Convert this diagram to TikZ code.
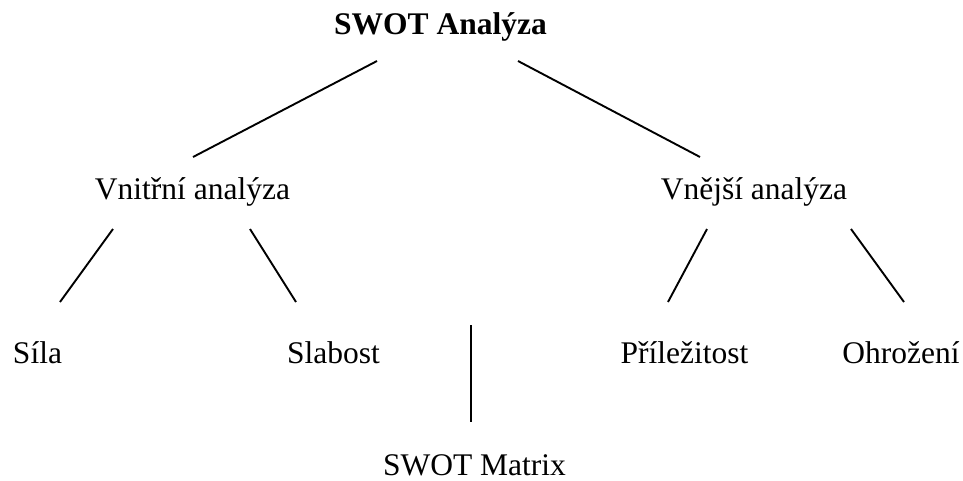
\documentclass[tikz,border=0pt]{standalone}
\usepackage{fontspec}
\setmainfont{Liberation Serif}
\begin{document}
\begin{tikzpicture}[x=1pt,y=-1pt,
  lbl/.style={anchor=base,inner sep=0pt,font=\fontsize{31.5}{36}\selectfont},
  head/.style={lbl,font=\fontsize{31.5}{36}\selectfont\bfseries},
  link/.style={line width=1.9pt,line cap=butt}]
\useasboundingbox (0,0) rectangle (963,480);
% labels, placed by baseline
\node[head] (swot) at (440.5,34) {SWOT Analýza};
\node[lbl] (vnitrni) at (192.5,199) {Vnitřní analýza};
\node[lbl] (vnejsi) at (754,199) {Vnější analýza};
\node[lbl] (sila) at (37.5,363) {Síla};
\node[lbl] (slabost) at (333.5,363) {Slabost};
\node[lbl] (prilezitost) at (684.5,363) {Příležitost};
\node[lbl] (ohrozeni) at (901,363) {Ohrožení};
\node[lbl] (matrix) at (474.5,475) {SWOT Matrix};
% connector ends
\coordinate (swot-l) at (377,61);
\coordinate (swot-r) at (518,61);
\coordinate (vnitrni-t) at (193,157);
\coordinate (vnejsi-t) at (700,157);
\coordinate (vnitrni-l) at (113,229);
\coordinate (vnitrni-r) at (250,229);
\coordinate (sila-t) at (60,302);
\coordinate (slabost-t) at (296,302);
\coordinate (vnejsi-l) at (707,229);
\coordinate (vnejsi-r) at (851,229);
\coordinate (prilezitost-t) at (668,302);
\coordinate (ohrozeni-t) at (904,302);
\coordinate (matrix-a) at (470.8,325);
\coordinate (matrix-b) at (470.8,422);
% connectors
\draw[link] (swot-l) -- (vnitrni-t);
\draw[link] (swot-r) -- (vnejsi-t);
\draw[link] (vnitrni-l) -- (sila-t);
\draw[link] (vnitrni-r) -- (slabost-t);
\draw[link] (vnejsi-l) -- (prilezitost-t);
\draw[link] (vnejsi-r) -- (ohrozeni-t);
\draw[link] (matrix-a) -- (matrix-b);
\end{tikzpicture}
\end{document}
